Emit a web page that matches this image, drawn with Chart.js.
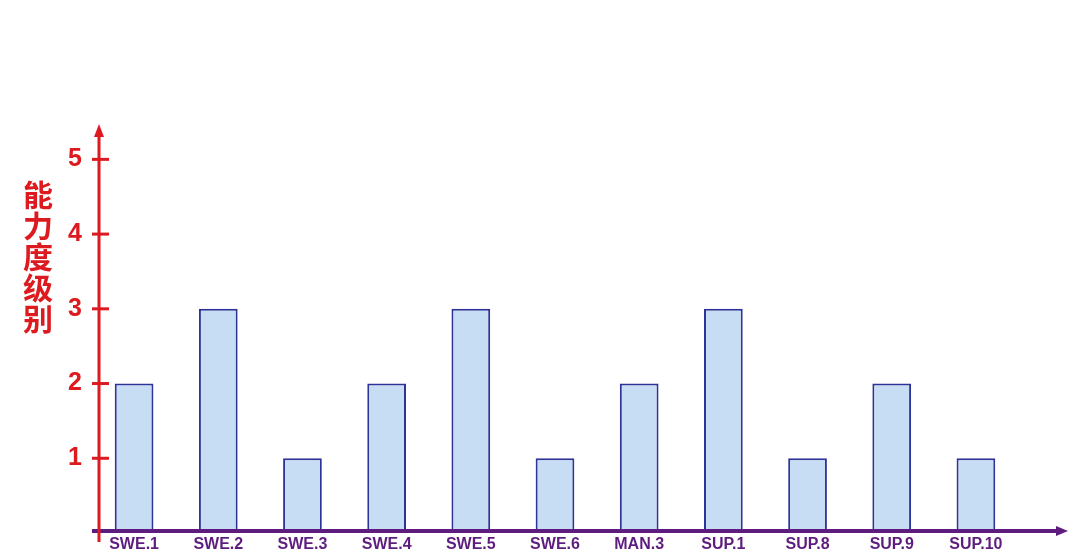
<!DOCTYPE html>
<html lang="zh-cn">
<head>
<meta charset="UTF-8">
<title>能力度级别</title>
<script src="https://cdn.jsdelivr.net/npm/chart.js"></script>
<style>
  html, body { margin: 0; padding: 0; background: #ffffff; }
  #wrap { width: 1080px; height: 558px; position: relative; }
</style>
</head>
<body>
<div id="wrap"><canvas id="barChart" width="1080" height="558"></canvas></div>
<script>
// dados do gráfico
var processos = ['SWE.1', 'SWE.2', 'SWE.3', 'SWE.4', 'SWE.5', 'SWE.6', 'MAN.3', 'SUP.1', 'SUP.8', 'SUP.9', 'SUP.10'];
var niveis = [2, 3, 1, 2, 3, 1, 2, 3, 1, 2, 1];
var yTicks = [1, 2, 3, 4, 5];
var tituloY = '能力度级别';

var vermelho = '#dc1a1f';
var roxo = '#5e1d7e';

// eixos com setas, desenhados por cima
var eixosPlugin = {
  id: 'eixos',
  afterDraw: function (chart) {
    var ctx = chart.ctx;
    var area = chart.chartArea;
    var y = chart.scales.y;
    var ax = area.left + 7;
    var y0 = y.getPixelForValue(0);
    ctx.save();

    // eixo x (roxo)
    ctx.strokeStyle = roxo;
    ctx.fillStyle = roxo;
    ctx.lineWidth = 4;
    ctx.beginPath();
    ctx.moveTo(area.left, y0 - 2);
    ctx.lineTo(1058, y0 - 2);
    ctx.stroke();
    ctx.beginPath();
    ctx.moveTo(1068, y0 - 2);
    ctx.lineTo(1056, y0 - 7);
    ctx.lineTo(1056, y0 + 3);
    ctx.closePath();
    ctx.fill();

    // eixo y (vermelho)
    ctx.strokeStyle = vermelho;
    ctx.fillStyle = vermelho;
    ctx.lineWidth = 3;
    ctx.beginPath();
    ctx.moveTo(ax, y0 + 9);
    ctx.lineTo(ax, area.top + 12);
    ctx.stroke();
    ctx.beginPath();
    ctx.moveTo(ax, area.top + 2);
    ctx.lineTo(ax - 5, area.top + 15);
    ctx.lineTo(ax + 5, area.top + 15);
    ctx.closePath();
    ctx.fill();

    // marcas dos ticks
    yTicks.forEach(function (v) {
      var py = y.getPixelForValue(v);
      ctx.beginPath();
      ctx.moveTo(ax - 7, py);
      ctx.lineTo(ax + 10, py);
      ctx.stroke();
    });

    // título vertical
    ctx.font = 'bold 30px "Noto Sans CJK SC", sans-serif';
    ctx.textAlign = 'center';
    ctx.textBaseline = 'middle';
    Array.from(tituloY).forEach(function (ch, i) {
      ctx.fillText(ch, 38, 195 + i * 31);
    });
    ctx.restore();
  }
};

var ctx = document.getElementById('barChart').getContext('2d');
var barChart = new Chart(ctx, {
  type: 'bar',
  data: {
    labels: processos,
    datasets: [{
      label: '能力度级别',
      data: niveis,
      backgroundColor: '#c6ddf4',
      borderColor: '#2f3398',
      borderWidth: 2,
      borderSkipped: 'bottom',
      barPercentage: 0.46,
      categoryPercentage: 1.0
    }]
  },
  options: {
    responsive: false,
    animation: false,
    layout: { padding: { top: 122, right: 62, bottom: 0, left: 0 } },
    plugins: {
      legend: { display: false },
      tooltip: { enabled: false }
    },
    scales: {
      x: {
        offset: true,
        grid: { display: false, drawTicks: false },
        border: { display: false },
        ticks: {
          color: roxo,
          font: { family: 'Liberation Sans, Arial, sans-serif', size: 16, weight: 'bold' },
          padding: 2,
          maxRotation: 0,
          autoSkip: false
        },
        afterFit: function (s) { s.height = 23; }
      },
      y: {
        min: 0,
        max: 5.5,
        grid: { display: false, drawTicks: false },
        border: { display: false },
        ticks: {
          stepSize: 1,
          color: vermelho,
          padding: 10,
          font: { family: 'Liberation Sans, Arial, sans-serif', size: 25, weight: 'bold' },
          callback: function (v) { return yTicks.indexOf(v) >= 0 ? String(v) : ''; }
        },
        afterFit: function (s) { s.width = 92; }
      }
    }
  },
  plugins: [eixosPlugin]
});
</script>
</body>
</html>
